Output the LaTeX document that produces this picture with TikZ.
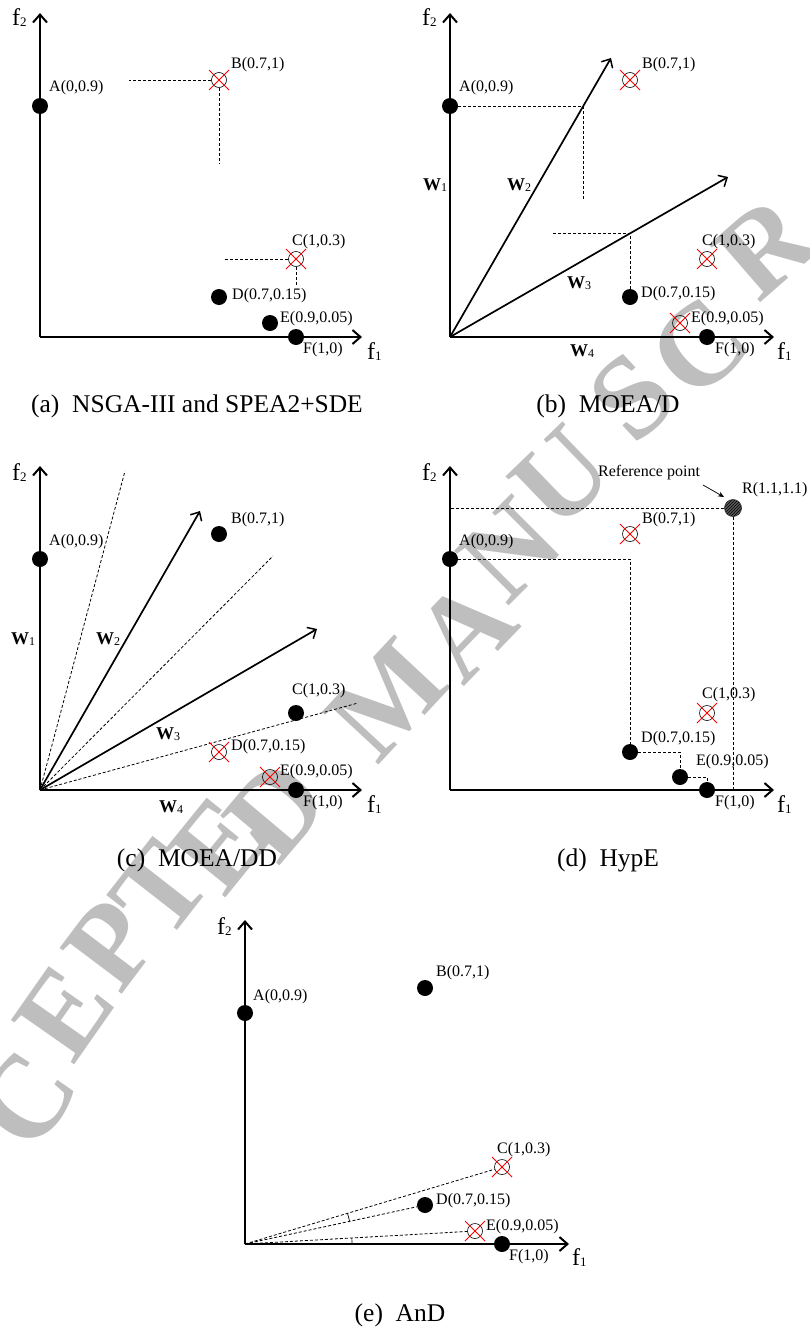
\documentclass[tikz,border=0pt]{standalone}
\usepackage{fontspec}
\setmainfont{Liberation Serif}
\usetikzlibrary{arrows.meta,patterns}
\newcommand{\crosspt}[2]{%
  \node[xdot] (#1) at (#2) {};
  \draw[xline] ([shift={(-10,-10)}]#1.center) -- ([shift={(10,10)}]#1.center);
  \draw[xline] ([shift={(-10,10)}]#1.center) -- ([shift={(10,-10)}]#1.center);
}
\newcommand{\fl}[1]{{\fontsize{24}{24}\selectfont f}{\fontsize{13}{13}\selectfont\raisebox{-1pt}{#1}}}
\newcommand{\wl}[1]{{\fontsize{18}{18}\selectfont\bfseries W}{\fontsize{12}{12}\selectfont\raisebox{-1pt}{#1}}}
\definecolor{wmgray}{RGB}{190,190,190}
\tikzset{
  dotpt/.style={circle,fill=black,inner sep=0pt,minimum size=16pt},
  xdot/.style={circle,draw=black,line width=0.6pt,inner sep=0pt,minimum size=15pt},
  xline/.style={red,line width=0.9pt},
  lab/.style={font=\fontsize{16}{16}\selectfont,inner sep=0pt,anchor=west},
  flab/.style={inner sep=0pt,anchor=west},
  wlab/.style={inner sep=0pt},
  captxt/.style={font=\fontsize{25.5}{25.5}\selectfont,inner sep=0pt,anchor=base},
  axisl/.style={line width=2.6pt,-{Straight Barb[length=8pt,width=14pt,line width=2pt]}},
  wvec/.style={line width=1.7pt,-{Straight Barb[length=7pt,width=13pt,line width=1.5pt]}},
  dsh/.style={line width=0.8pt,dash pattern=on 3pt off 2pt},
  thinl/.style={line width=0.7pt},
  wmark/.style={text=wmgray,inner sep=0pt,font=\fontsize{118}{118}\selectfont\bfseries},
}
\begin{document}
\begin{tikzpicture}[x=1pt,y=-1pt]
\useasboundingbox (0,0) rectangle (809,1328);
% ================= watermark
\foreach \ch/\px/\py/\rot [count=\i] in {C/26/1100/56, E/64/1012/55, P/111/944/53, T/160/890/52, E/219/845/51, D/276/810/50,
   M/387/699/47, A/465/630/46, N/510/550/45, U/562/477/44, S/632/397/43, C/699/347/42, R/765/247/41}
  \node[wmark,rotate=\rot] (wm\i) at (\px,\py) {\ch};
% ================= (a)
\coordinate (Oa) at (40,337);
\coordinate (Ya) at (40,13);
\coordinate (Xa) at (362,337);
\draw[axisl] (Oa) -- (Ya);
\draw[axisl] (Oa) -- (Xa);
\node[flab] (fa2) at (12,18) {\fl{2}};
\node[flab] (fa1) at (367,352) {\fl{1}};
\node[dotpt] (Aa) at (40,106) {};
\crosspt{Ba}{219,80}
\crosspt{Ca}{296,259}
\node[dotpt] (Da) at (219,297) {};
\node[dotpt] (Ea) at (270,323) {};
\node[dotpt] (Fa) at (296,337) {};
\coordinate (ba1) at (129,80);
\coordinate (ba2) at (219,163);
\coordinate (ca1) at (224,259);
\coordinate (ca2) at (296,285);
\draw[dsh] (Ba) -- (ba1);
\draw[dsh] (Ba) -- (ba2);
\draw[dsh] (Ca) -- (ca1);
\draw[dsh] (Ca) -- (ca2);
\node[lab] (la) at (49,88) {A(0,0.9)};
\node[lab] (lb) at (231,65) {B(0.7,1)};
\node[lab] (lc) at (292,242) {C(1,0.3)};
\node[lab] (ld) at (232,296) {D(0.7,0.15)};
\node[lab] (le) at (280,319) {E(0.9,0.05)};
\node[lab] (lf) at (303,350) {F(1,0)};
\node[captxt] (capa) at (197,412) {(a)\hspace{0.5em}NSGA-III and SPEA2+SDE};
% ================= (b)
\coordinate (Ob) at (450,337);
\coordinate (Yb) at (450,13);
\coordinate (Xb) at (774,337);
\draw[axisl] (Ob) -- (Yb);
\draw[axisl] (Ob) -- (Xb);
\node[flab] (fb2) at (422,18) {\fl{2}};
\node[flab] (fb1) at (777,352) {\fl{1}};
\coordinate (w2b) at (611,58);
\coordinate (w3b) at (728,177);
\draw[wvec] (Ob) -- (w2b);
\draw[wvec] (Ob) -- (w3b);
\node[dotpt] (Ab) at (450,106) {};
\crosspt{Bb}{630,80}
\crosspt{Cb}{707,259}
\node[dotpt] (Db) at (630,297) {};
\crosspt{Eb}{680,323}
\node[dotpt] (Fb) at (707,337) {};
\coordinate (pb1) at (583,106);
\coordinate (pb2) at (583,200);
\coordinate (qb1) at (630,233);
\coordinate (qb2) at (552,233);
\draw[dsh] (Ab) -- (pb1) -- (pb2);
\draw[dsh] (Db) -- (qb1) -- (qb2);
\node[lab] (lab) at (459,88) {A(0,0.9)};
\node[lab] (lbb) at (642,65) {B(0.7,1)};
\node[lab] (lcb) at (702,242) {C(1,0.3)};
\node[lab] (ldb) at (641,294) {D(0.7,0.15)};
\node[lab] (leb) at (691,319) {E(0.9,0.05)};
\node[lab] (lfb) at (715,350) {F(1,0)};
\node[wlab] (w1lb) at (435,185) {\wl{1}};
\node[wlab] (w2lb) at (519,185) {\wl{2}};
\node[wlab] (w3lb) at (579,283) {\wl{3}};
\node[wlab] (w4lb) at (582,351) {\wl{4}};
\node[captxt] (capb) at (608,412) {(b)\hspace{0.5em}MOEA/D};
% ================= (c)
\coordinate (Oc) at (40,790);
\coordinate (Yc) at (40,466);
\coordinate (Xc) at (362,790);
\draw[axisl] (Oc) -- (Yc);
\draw[axisl] (Oc) -- (Xc);
\node[flab] (fc2) at (12,473) {\fl{2}};
\node[flab] (fc1) at (367,805) {\fl{1}};
\coordinate (d1c) at (125,471);
\coordinate (d2c) at (273,556);
\coordinate (d3c) at (358,703);
\draw[dsh] (Oc) -- (d1c);
\draw[dsh] (Oc) -- (d2c);
\draw[dsh] (Oc) -- (d3c);
\coordinate (w2c) at (200,511);
\coordinate (w3c) at (317,629);
\draw[wvec] (Oc) -- (w2c);
\draw[wvec] (Oc) -- (w3c);
\node[dotpt] (Ac) at (40,559) {};
\node[dotpt] (Bc) at (219,534) {};
\node[dotpt] (Cc) at (296,713) {};
\crosspt{Dc}{219,752}
\crosspt{Ec}{270,777}
\node[dotpt] (Fc) at (296,790) {};
\node[lab] (lac) at (49,542) {A(0,0.9)};
\node[lab] (lbc) at (231,520) {B(0.7,1)};
\node[lab] (lcc) at (292,691) {C(1,0.3)};
\node[lab] (ldc) at (231,747) {D(0.7,0.15)};
\node[lab] (lec) at (280,772) {E(0.9,0.05)};
\node[lab] (lfc) at (303,803) {F(1,0)};
\node[wlab] (w1lc) at (23,639) {\wl{1}};
\node[wlab] (w2lc) at (108,639) {\wl{2}};
\node[wlab] (w3lc) at (168,734) {\wl{3}};
\node[wlab] (w4lc) at (171,807) {\wl{4}};
\node[captxt] (capc) at (197,866) {(c)\hspace{0.5em}MOEA/DD};
% ================= (d)
\coordinate (Od) at (450,790);
\coordinate (Yd) at (450,466);
\coordinate (Xd) at (774,790);
\node[flab] (fd2) at (422,473) {\fl{2}};
\node[flab] (fd1) at (777,805) {\fl{1}};
\node[circle,inner sep=0pt,minimum size=17pt,draw=black!80,line width=0.6pt,fill=black!65,postaction={pattern=north east lines,pattern color=black}] (Rd) at (733,508) {};
\coordinate (r1d) at (450,508);
\coordinate (r2d) at (733,790);
\draw[dsh] (Rd) -- (r1d);
\draw[dsh] (Rd) -- (r2d);
\draw[axisl] (Od) -- (Yd);
\draw[axisl] (Od) -- (Xd);
\node[dotpt] (Ad) at (450,559) {};
\crosspt{Bd}{630,534}
\crosspt{Cd}{707,713}
\node[dotpt] (Dd) at (630,752) {};
\node[dotpt] (Ed) at (680,777) {};
\node[dotpt] (Fd) at (707,790) {};
\coordinate (s1d) at (630,559);
\coordinate (s2d) at (680,752);
\coordinate (s3d) at (707,777);
\draw[dsh] (Ad) -- (s1d) -- (Dd);
\draw[dsh] (Dd) -- (s2d) -- (Ed);
\draw[dsh] (Ed) -- (s3d) -- (Fd);
\node[lab] (lad) at (459,542) {A(0,0.9)};
\node[lab] (lbd) at (642,520) {B(0.7,1)};
\node[lab] (lcd) at (702,695) {C(1,0.3)};
\node[lab] (ldd) at (641,739) {D(0.7,0.15)};
\node[lab] (led) at (696,762) {E(0.9,0.05)};
\node[lab] (lfd) at (715,803) {F(1,0)};
\node[lab] (lrd) at (742,490) {R(1.1,1.1)};
\node[lab] (refd) at (598,473) {Reference point};
\coordinate (ra1) at (703,485);
\coordinate (ra2) at (724,497);
\draw[thinl,-{Stealth[length=6pt,width=5pt]}] (ra1) -- (ra2);
\node[captxt] (capd) at (608,866) {(d)\hspace{0.5em}HypE};
% ================= (e)
\coordinate (Oe) at (245,1244);
\coordinate (Ye) at (245,920);
\coordinate (Xe) at (569,1244);
\node[flab] (fe2) at (217,927) {\fl{2}};
\node[flab] (fe1) at (572,1258) {\fl{1}};
\node[dotpt] (Ae) at (245,1013) {};
\node[dotpt] (Be) at (425,988) {};
\crosspt{Ce}{502,1167}
\node[dotpt] (De) at (425,1205) {};
\crosspt{Ee}{475,1231}
\draw[dsh] (Oe) -- (Ce);
\draw[dsh] (Oe) -- (De);
\draw[dsh] (Oe) -- (Ee);
\draw[thinl] ([shift={(-12.2:107)}]Oe) arc[start angle=-12.2,end angle=-16.7,radius=107];
\draw[thinl] ([shift={(0:107)}]Oe) arc[start angle=0,end angle=-3.2,radius=107];
\draw[axisl] (Oe) -- (Ye);
\draw[axisl] (Oe) -- (Xe);
\node[dotpt] (Fe) at (502,1244) {};
\node[lab] (lae) at (253,997) {A(0,0.9)};
\node[lab] (lbe) at (436,973) {B(0.7,1)};
\node[lab] (lce) at (497,1150) {C(1,0.3)};
\node[lab] (lde) at (436,1201) {D(0.7,0.15)};
\node[lab] (lee) at (486,1227) {E(0.9,0.05)};
\node[lab] (lfe) at (509,1257) {F(1,0)};
\node[captxt] (cape) at (400,1321) {(e)\hspace{0.5em}AnD};
\end{tikzpicture}
\end{document}
